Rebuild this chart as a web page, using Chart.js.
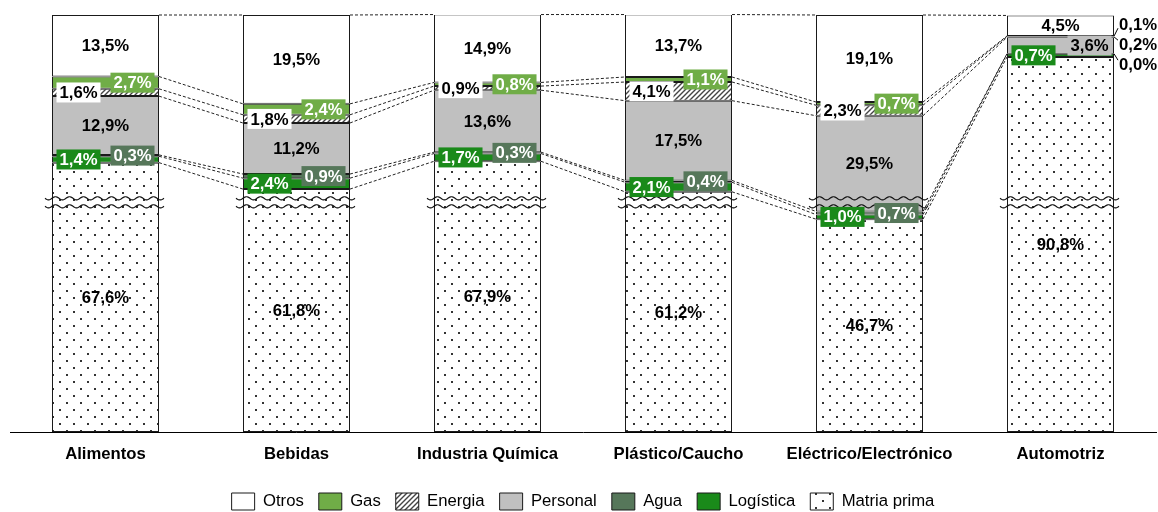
<!DOCTYPE html>
<html>
<head>
<meta charset="utf-8">
<script src="https://cdn.jsdelivr.net/npm/chart.js@4.4.0/dist/chart.umd.min.js"></script>
<style>
    body { margin: 0; background: #fff; }
    #wrap { width: 1158px; height: 512px; }
</style>
</head>
<body>
<div id="wrap"><canvas id="costChart"></canvas></div>
<script>
// Cost structure per sector (% of total cost)
const categories = ['Alimentos', 'Bebidas', 'Industria Química', 'Plástico/Caucho', 'Eléctrico/Electrónico', 'Automotriz'];
const materiaPrima = [67.6, 61.8, 67.9, 61.2, 46.7, 90.8];
const logistica = [1.4, 2.4, 1.7, 2.1, 1.0, 0.7];
const agua = [0.3, 0.9, 0.3, 0.4, 0.7, 0.0];
const personal = [12.9, 11.2, 13.6, 17.5, 29.5, 3.6];
const energia = [1.6, 1.8, 0.9, 4.1, 2.3, 0.2];
const gas = [2.7, 2.4, 0.8, 1.1, 0.7, 0.1];
const otros = [13.5, 19.5, 14.9, 13.7, 19.1, 4.5];

// the value axis is broken: this many points are taken out of the segment crossing the break
const AXIS_CUT = 8.5;
const BREAK_AT = 50.4;
const FONT = '"Liberation Sans", Arial, sans-serif';
const FONT_SIZE = 16.7;

// Patterns for Energia (hatch) and Matria prima (dots)
function hatchPattern() {
    const c = document.createElement('canvas');
    c.width = 5; c.height = 5;
    const g = c.getContext('2d');
    g.fillStyle = '#fff';
    g.fillRect(0, 0, 5, 5);
    g.strokeStyle = '#444';
    g.lineWidth = 1.4;
    g.beginPath();
    g.moveTo(-1, 6); g.lineTo(6, -1);
    g.moveTo(-1, 1); g.lineTo(1, -1);
    g.moveTo(4, 6); g.lineTo(6, 4);
    g.stroke();
    return g.createPattern(c, 'repeat');
}

function dotPattern() {
    const c = document.createElement('canvas');
    c.width = 14; c.height = 14;
    const g = c.getContext('2d');
    g.fillStyle = '#fff';
    g.fillRect(0, 0, 14, 14);
    g.fillStyle = '#333';
    g.fillRect(3, 3, 2, 2);
    g.fillRect(10, 10, 2, 2);
    return g.createPattern(c, 'repeat');
}

// bottom to top; side: -1 label left, 1 label right, 0 centered
const seriesList = [
    { name: 'Matria prima', values: materiaPrima, color: dotPattern(), side: 0, box: null, text: '#000' },
    { name: 'Logística', values: logistica, color: '#1a8a1a', side: -1, box: '#1a8a1a', text: '#fff' },
    { name: 'Agua', values: agua, color: '#56775a', side: 1, box: '#56775a', text: '#fff' },
    { name: 'Personal', values: personal, color: '#c0c0c0', side: 0, box: '#c0c0c0', text: '#000' },
    { name: 'Energia', values: energia, color: hatchPattern(), side: -1, box: '#fff', text: '#000' },
    { name: 'Gas', values: gas, color: '#70ad47', side: 1, box: '#70ad47', text: '#fff' },
    { name: 'Otros', values: otros, color: '#fff', side: 0, box: null, text: '#000' }
];

// values as drawn: the segment that crosses the break loses AXIS_CUT
function drawnValues() {
    const out = seriesList.map(() => []);
    categories.forEach((cat, i) => {
        let cum = 0;
        let done = false;
        seriesList.forEach((s, d) => {
            let v = s.values[i];
            cum += v;
            if (!done && cum - AXIS_CUT > BREAK_AT) {
                v -= AXIS_CUT;
                done = true;
            }
            out[d][i] = v;
        });
    });
    return out;
}

function fmt(v) {
    return v.toFixed(1).replace('.', ',') + '%';
}

// dashed series lines between neighbouring bars
const seriesLines = {
    id: 'seriesLines',
    afterDatasetsDraw(chart) {
        const ctx = chart.ctx;
        ctx.save();
        ctx.strokeStyle = '#222';
        ctx.lineWidth = 1;
        ctx.setLineDash([3, 2]);
        seriesList.forEach((s, d) => {
            const bars = chart.getDatasetMeta(d).data;
            for (let i = 0; i < bars.length - 1; i++) {
                const a = bars[i], b = bars[i + 1];
                ctx.beginPath();
                ctx.moveTo(a.x + a.width / 2, a.y);
                ctx.lineTo(b.x - b.width / 2, b.y);
                ctx.stroke();
            }
        });
        ctx.restore();
    }
};

// wavy break marks across every bar
const axisBreak = {
    id: 'axisBreak',
    afterDatasetsDraw(chart) {
        const ctx = chart.ctx;
        const y = chart.scales.y.getPixelForValue(BREAK_AT);
        ctx.save();
        ctx.strokeStyle = '#111';
        ctx.lineWidth = 1.2;
        chart.getDatasetMeta(0).data.forEach(bar => {
            const x0 = bar.x - bar.width / 2 - 7;
            const x1 = bar.x + bar.width / 2 + 5;
            [y - 4, y + 4].forEach(yy => {
                ctx.beginPath();
                for (let x = x0; x <= x1; x += 1) {
                    const py = yy + 1.6 * Math.sin((x - x0) / 14 * 2 * Math.PI);
                    if (x === x0) ctx.moveTo(x, py); else ctx.lineTo(x, py);
                }
                ctx.stroke();
            });
        });
        ctx.restore();
    }
};

// percentage labels
const segmentLabels = {
    id: 'segmentLabels',
    afterDatasetsDraw(chart) {
        const ctx = chart.ctx;
        ctx.save();
        ctx.font = 'bold ' + FONT_SIZE + 'px ' + FONT;
        ctx.textBaseline = 'middle';
        ctx.textAlign = 'center';
        categories.forEach((cat, i) => {
            const outside = [];
            let right = 0;
            seriesList.forEach((s, d) => {
                const bar = chart.getDatasetMeta(d).data[i];
                const value = s.values[i];
                const text = fmt(value);
                const yc = (bar.y + bar.base) / 2;
                right = bar.x + bar.width / 2;
                if (value < 0.25) {
                    outside.push({ text, y: yc });
                    return;
                }
                let dx = s.side * 27;
                let box = s.box;
                if (s.side === 0 && bar.base - bar.y < 19) {
                    dx = 29;
                }
                if (dx === 0 && s.box === '#c0c0c0') box = null;
                const w = ctx.measureText(text).width + 6;
                if (box) {
                    ctx.fillStyle = box;
                    ctx.fillRect(bar.x + dx - w / 2, yc - 10, w, 20);
                }
                ctx.fillStyle = s.text;
                ctx.fillText(text, bar.x + dx, yc + 1);
            });
            // tiny shares go outside the bar with a leader line
            outside.sort((a, b) => a.y - b.y);
            ctx.textAlign = 'left';
            outside.forEach((o, k) => {
                const ly = outside[0].y - 12 + k * 20;
                const lx = right + 4;
                ctx.strokeStyle = '#000';
                ctx.lineWidth = 1;
                ctx.beginPath();
                ctx.moveTo(right, o.y);
                ctx.lineTo(lx, ly + (ly < o.y ? 4 : -4));
                ctx.stroke();
                ctx.fillStyle = '#000';
                ctx.fillText(o.text, lx + 1, ly + 1);
            });
            ctx.textAlign = 'center';
        });
        ctx.restore();
    }
};

const plotted = drawnValues();

new Chart(document.getElementById('costChart'), {
    type: 'bar',
    data: {
        labels: categories,
        datasets: seriesList.map((s, d) => ({
            label: s.name,
            data: plotted[d],
            backgroundColor: s.color,
            borderColor: '#1a1a1a',
            borderWidth: 1,
            borderSkipped: false,
            categoryPercentage: 1,
            barPercentage: 107 / 191
        }))
    },
    options: {
        responsive: true,
        maintainAspectRatio: false,
        animation: false,
        layout: { padding: { left: 10, right: 2, top: 15, bottom: -8 } },
        scales: {
            x: {
                stacked: true,
                grid: { display: false, drawTicks: false },
                border: { display: true, color: '#000', width: 1 },
                ticks: { color: '#000', padding: 12, font: { family: FONT, size: FONT_SIZE, weight: 'bold' } },
                afterFit(scale) { scale.height = 46; }
            },
            y: {
                stacked: true,
                display: false,
                min: 0,
                max: 100 - AXIS_CUT
            }
        },
        plugins: {
            tooltip: { enabled: false },
            legend: {
                position: 'bottom',
                reverse: true,
                labels: {
                    color: '#000',
                    boxWidth: 23,
                    boxHeight: 17,
                    padding: 15,
                    font: { family: FONT, size: FONT_SIZE }
                }
            }
        }
    },
    plugins: [seriesLines, axisBreak, segmentLabels]
});
</script>
</body>
</html>
